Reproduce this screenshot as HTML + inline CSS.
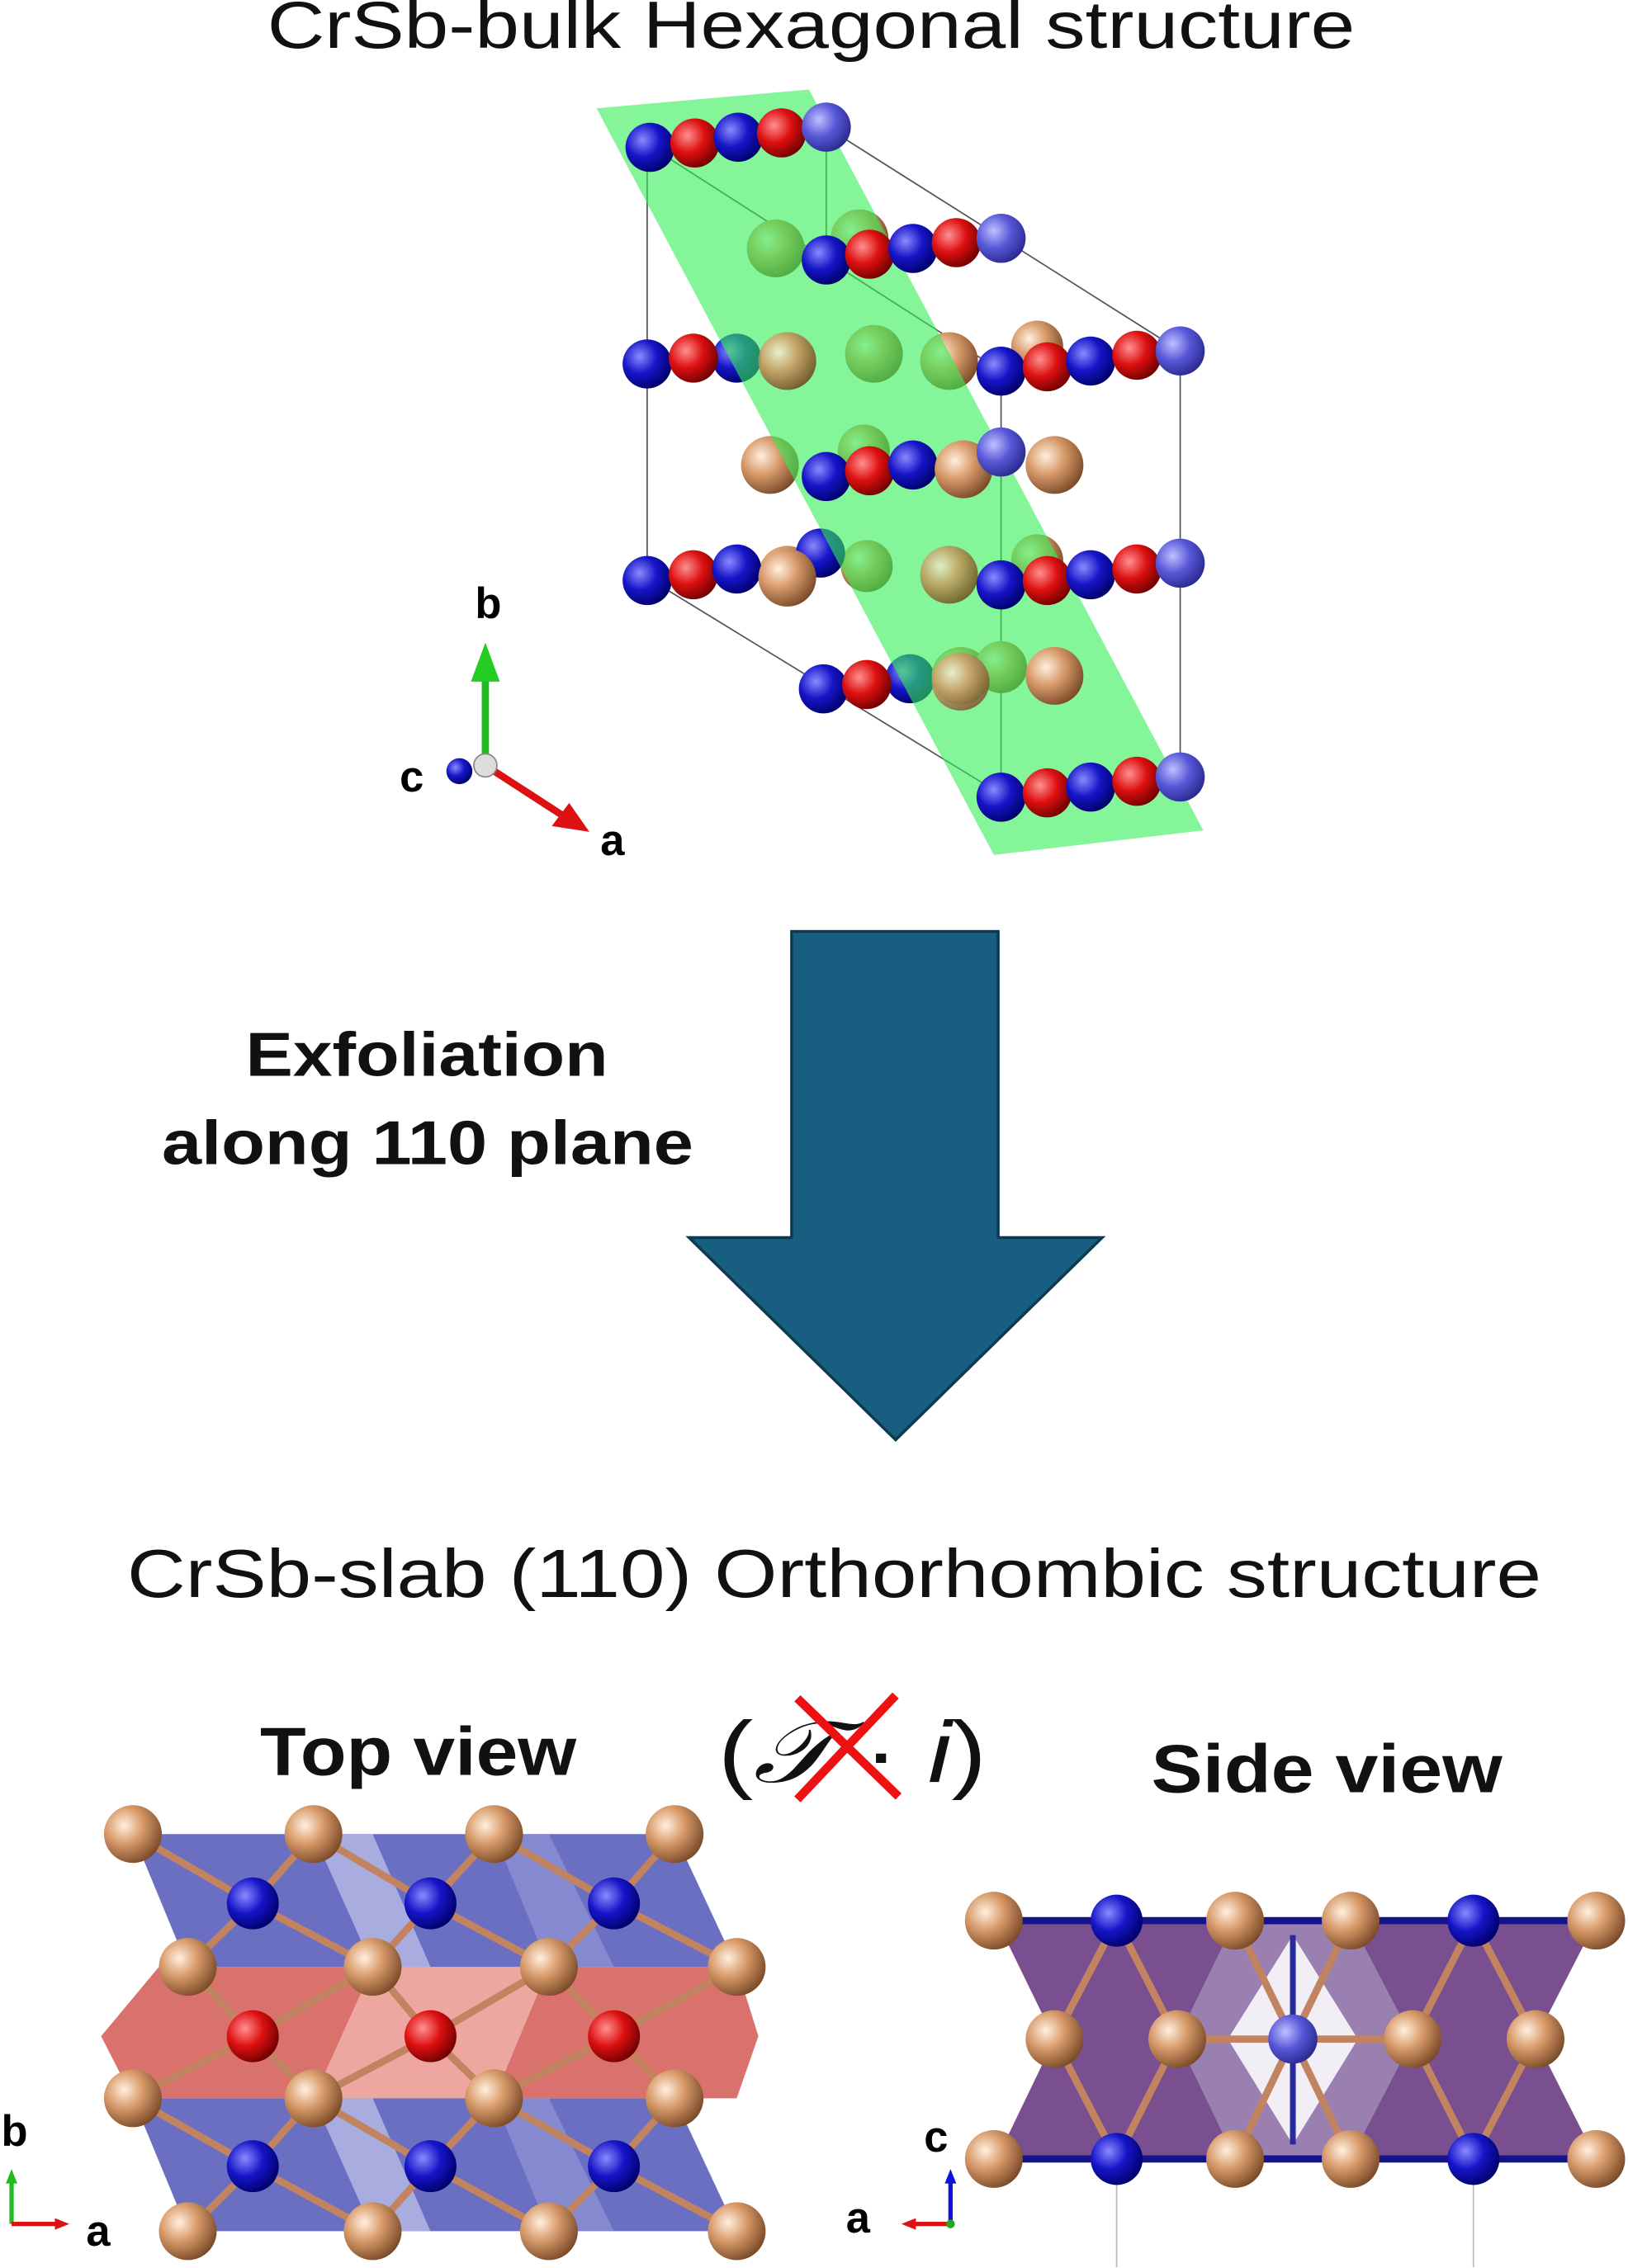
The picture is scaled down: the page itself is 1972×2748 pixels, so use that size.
<!DOCTYPE html>
<html><head><meta charset="utf-8"><style>
html,body{margin:0;padding:0;background:#fff;}
svg{display:block;}
text{font-family:"Liberation Sans",sans-serif;}
</style></head><body>
<svg width="1972" height="2748" viewBox="0 0 1127 1570.5" xmlns="http://www.w3.org/2000/svg">
<defs>
<radialGradient id="gb" cx="0.35" cy="0.35" r="0.7"><stop offset="0" stop-color="#8a8aff"/><stop offset="0.5" stop-color="#1515c8"/><stop offset="1" stop-color="#00006a"/></radialGradient>
<radialGradient id="gr" cx="0.35" cy="0.35" r="0.7"><stop offset="0" stop-color="#ff9090"/><stop offset="0.5" stop-color="#dd1010"/><stop offset="1" stop-color="#700000"/></radialGradient>
<radialGradient id="gc" cx="0.35" cy="0.35" r="0.7"><stop offset="0" stop-color="#fff0e0"/><stop offset="0.45" stop-color="#d99c6c"/><stop offset="1" stop-color="#7a4a28"/></radialGradient>
<radialGradient id="gl" cx="0.35" cy="0.35" r="0.7"><stop offset="0" stop-color="#c0c0ff"/><stop offset="0.5" stop-color="#5858d8"/><stop offset="1" stop-color="#2a2a90"/></radialGradient>
</defs>

<text x="185" y="33" font-size="46" textLength="753" lengthAdjust="spacingAndGlyphs" fill="#111">CrSb-bulk Hexagonal structure</text>

<g stroke="#555" stroke-width="1" fill="none">
<line x1="448" y1="100" x2="448" y2="400"/>
<line x1="693" y1="257" x2="693" y2="550"/>
<line x1="817" y1="243" x2="817" y2="538"/>
<line x1="572" y1="88" x2="572" y2="180"/>
<line x1="448" y1="100" x2="693" y2="257"/>
<line x1="572" y1="88" x2="817" y2="243"/>
<line x1="448" y1="400" x2="693" y2="550"/>
<line x1="448" y1="100" x2="572" y2="88"/>
<line x1="693" y1="257" x2="817" y2="243"/>
<line x1="693" y1="550" x2="817" y2="538"/>
</g>

<g>
<circle cx="537" cy="172" r="20" fill="url(#gc)"/><circle cx="595" cy="165" r="20" fill="url(#gc)"/>
<circle cx="545" cy="250" r="20" fill="url(#gc)"/><circle cx="605" cy="245" r="20" fill="url(#gc)"/><circle cx="657" cy="250" r="20" fill="url(#gc)"/><circle cx="718" cy="240" r="18" fill="url(#gc)"/>
<circle cx="533" cy="322" r="20" fill="url(#gc)"/><circle cx="598" cy="312" r="18" fill="url(#gc)"/>
<circle cx="545" cy="398" r="20" fill="url(#gc)"/><circle cx="600" cy="392" r="18" fill="url(#gc)"/><circle cx="657" cy="398" r="20" fill="url(#gc)"/><circle cx="718" cy="388" r="18" fill="url(#gc)"/>
<circle cx="630" cy="470" r="17" fill="url(#gb)"/><circle cx="665" cy="468" r="20" fill="url(#gc)"/><circle cx="693" cy="462" r="18" fill="url(#gc)"/>
<circle cx="510" cy="248" r="17" fill="url(#gb)"/><circle cx="568" cy="383" r="17" fill="url(#gb)"/>
</g>

<polygon points="413,75 560,62 833,575 688,592" fill="#33ee55" fill-opacity="0.6"/>

<g>
<circle cx="450" cy="102" r="17" fill="url(#gb)"/><circle cx="481" cy="99" r="17" fill="url(#gr)"/><circle cx="511" cy="95" r="17" fill="url(#gb)"/><circle cx="541" cy="92" r="17" fill="url(#gr)"/><circle cx="572" cy="88" r="17" fill="url(#gl)"/>
<circle cx="572" cy="180" r="17" fill="url(#gb)"/><circle cx="602" cy="176" r="17" fill="url(#gr)"/><circle cx="632" cy="172" r="17" fill="url(#gb)"/><circle cx="662" cy="168" r="17" fill="url(#gr)"/><circle cx="693" cy="165" r="17" fill="url(#gl)"/>
<circle cx="448" cy="252" r="17" fill="url(#gb)"/><circle cx="480" cy="248" r="17" fill="url(#gr)"/>
<circle cx="545" cy="250" r="20" fill="url(#gc)" opacity="0.8"/>
<circle cx="693" cy="257" r="17" fill="url(#gb)"/><circle cx="725" cy="254" r="17" fill="url(#gr)"/><circle cx="755" cy="250" r="17" fill="url(#gb)"/><circle cx="787" cy="246" r="17" fill="url(#gr)"/><circle cx="817" cy="243" r="17" fill="url(#gl)"/>
<circle cx="572" cy="330" r="17" fill="url(#gb)"/><circle cx="602" cy="326" r="17" fill="url(#gr)"/><circle cx="632" cy="322" r="17" fill="url(#gb)"/><circle cx="667" cy="325" r="20" fill="url(#gc)"/><circle cx="693" cy="313" r="17" fill="url(#gl)"/><circle cx="730" cy="322" r="20" fill="url(#gc)"/>
<circle cx="448" cy="402" r="17" fill="url(#gb)"/><circle cx="480" cy="398" r="17" fill="url(#gr)"/><circle cx="510" cy="394" r="17" fill="url(#gb)"/><circle cx="545" cy="400" r="20" fill="url(#gc)"/>
<circle cx="657" cy="398" r="20" fill="url(#gc)" opacity="0.7"/>
<circle cx="693" cy="405" r="17" fill="url(#gb)"/><circle cx="725" cy="402" r="17" fill="url(#gr)"/><circle cx="755" cy="398" r="17" fill="url(#gb)"/><circle cx="787" cy="394" r="17" fill="url(#gr)"/><circle cx="817" cy="390" r="17" fill="url(#gl)"/>
<circle cx="570" cy="477" r="17" fill="url(#gb)"/><circle cx="600" cy="474" r="17" fill="url(#gr)"/><circle cx="665" cy="472" r="20" fill="url(#gc)" opacity="0.8"/><circle cx="730" cy="468" r="20" fill="url(#gc)"/>
<circle cx="693" cy="552" r="17" fill="url(#gb)"/><circle cx="725" cy="549" r="17" fill="url(#gr)"/><circle cx="755" cy="545" r="17" fill="url(#gb)"/><circle cx="787" cy="541" r="17" fill="url(#gr)"/><circle cx="817" cy="538" r="17" fill="url(#gl)"/>
</g>

<line x1="336" y1="530" x2="336" y2="470" stroke="#22bb22" stroke-width="5"/>
<polygon points="326,472 346,472 336,445" fill="#22cc22"/>
<line x1="336" y1="530" x2="390" y2="565" stroke="#dd1111" stroke-width="5"/>
<polygon points="382,572 394,556 408,576" fill="#dd1111"/>
<circle cx="318" cy="534" r="9" fill="url(#gb)"/>
<circle cx="336" cy="530" r="8" fill="#ddd" stroke="#888"/>
<text x="338" y="428" font-size="30" font-weight="bold" text-anchor="middle">b</text>
<text x="285" y="548" font-size="30" font-weight="bold" text-anchor="middle">c</text>
<text x="424" y="592" font-size="30" font-weight="bold" text-anchor="middle">a</text>

<polygon points="548,645 691,645 691,857 763,857 620,997 477,857 548,857" fill="#185e80" stroke="#0d3a50" stroke-width="2"/>
<text x="170" y="745" font-size="43" font-weight="bold" textLength="251" lengthAdjust="spacingAndGlyphs" fill="#111">Exfoliation</text>
<text x="112" y="806" font-size="43" font-weight="bold" textLength="368" lengthAdjust="spacingAndGlyphs" fill="#111">along 110 plane</text>

<text x="88" y="1106" font-size="47" textLength="979" lengthAdjust="spacingAndGlyphs" fill="#111">CrSb-slab (110) Orthorhombic structure</text>
<text x="180" y="1229" font-size="47" font-weight="bold" textLength="219" lengthAdjust="spacingAndGlyphs" fill="#111">Top view</text>
<text x="797" y="1241" font-size="47" font-weight="bold" textLength="243" lengthAdjust="spacingAndGlyphs" fill="#111">Side view</text>
<text x="497" y="1234" font-size="60" font-family="Liberation Serif,serif" fill="#111" textLength="186" lengthAdjust="spacingAndGlyphs">(<tspan font-style="italic">𝒯</tspan> · <tspan font-style="italic">i</tspan>)</text>
<line x1="552" y1="1176" x2="622" y2="1244" stroke="#ee1111" stroke-width="6"/>
<line x1="620" y1="1174" x2="552" y2="1246" stroke="#ee1111" stroke-width="6"/>

<g>
<polygon points="92,1270 467,1270 510,1362 130,1362" fill="#6a6fc2"/>
<polygon points="92,1453 467,1453 510,1545 130,1545" fill="#6a6fc2"/>
<polygon points="110,1362 510,1362 525,1410 510,1453 92,1453 70,1410" fill="#d9726c"/>
<polygon points="217,1270 258,1362 298,1362 258,1270" fill="#a9acdf"/>
<polygon points="217,1453 258,1545 298,1545 258,1453" fill="#a9acdf"/>
<polygon points="258,1362 217,1453 342,1453 380,1362" fill="#eda7a0"/>
<polygon points="342,1270 380,1362 425,1362 380,1270" fill="#9094d6" opacity="0.7"/>
<polygon points="342,1453 380,1545 425,1545 380,1453" fill="#9094d6" opacity="0.7"/>
<g stroke="#c28460" stroke-width="5">
<line x1="92" y1="1270" x2="175" y2="1318"/><line x1="217" y1="1270" x2="175" y2="1318"/><line x1="130" y1="1362" x2="175" y2="1318"/><line x1="258" y1="1362" x2="175" y2="1318"/>
<line x1="217" y1="1270" x2="298" y2="1318"/><line x1="342" y1="1270" x2="298" y2="1318"/><line x1="258" y1="1362" x2="298" y2="1318"/><line x1="380" y1="1362" x2="298" y2="1318"/>
<line x1="342" y1="1270" x2="425" y2="1318"/><line x1="467" y1="1270" x2="425" y2="1318"/><line x1="380" y1="1362" x2="425" y2="1318"/><line x1="510" y1="1362" x2="425" y2="1318"/>
<line x1="92" y1="1453" x2="175" y2="1500"/><line x1="217" y1="1453" x2="175" y2="1500"/><line x1="130" y1="1545" x2="175" y2="1500"/><line x1="258" y1="1545" x2="175" y2="1500"/>
<line x1="217" y1="1453" x2="298" y2="1500"/><line x1="342" y1="1453" x2="298" y2="1500"/><line x1="258" y1="1545" x2="298" y2="1500"/><line x1="380" y1="1545" x2="298" y2="1500"/>
<line x1="342" y1="1453" x2="425" y2="1500"/><line x1="467" y1="1453" x2="425" y2="1500"/><line x1="380" y1="1545" x2="425" y2="1500"/><line x1="510" y1="1545" x2="425" y2="1500"/>
<line x1="130" y1="1362" x2="175" y2="1410"/><line x1="258" y1="1362" x2="175" y2="1410"/><line x1="92" y1="1453" x2="175" y2="1410"/><line x1="217" y1="1453" x2="175" y2="1410"/>
<line x1="258" y1="1362" x2="298" y2="1410"/><line x1="380" y1="1362" x2="298" y2="1410"/><line x1="217" y1="1453" x2="298" y2="1410"/><line x1="342" y1="1453" x2="298" y2="1410"/>
<line x1="380" y1="1362" x2="425" y2="1410"/><line x1="510" y1="1362" x2="425" y2="1410"/><line x1="342" y1="1453" x2="425" y2="1410"/><line x1="467" y1="1453" x2="425" y2="1410"/>
</g>
<g fill="url(#gc)">
<circle cx="92" cy="1270" r="20"/><circle cx="217" cy="1270" r="20"/><circle cx="342" cy="1270" r="20"/><circle cx="467" cy="1270" r="20"/>
<circle cx="130" cy="1362" r="20"/><circle cx="258" cy="1362" r="20"/><circle cx="380" cy="1362" r="20"/><circle cx="510" cy="1362" r="20"/>
<circle cx="92" cy="1453" r="20"/><circle cx="217" cy="1453" r="20"/><circle cx="342" cy="1453" r="20"/><circle cx="467" cy="1453" r="20"/>
<circle cx="130" cy="1545" r="20"/><circle cx="258" cy="1545" r="20"/><circle cx="380" cy="1545" r="20"/><circle cx="510" cy="1545" r="20"/>
</g>
<g fill="url(#gb)"><circle cx="175" cy="1318" r="18"/><circle cx="298" cy="1318" r="18"/><circle cx="425" cy="1318" r="18"/><circle cx="175" cy="1500" r="18"/><circle cx="298" cy="1500" r="18"/><circle cx="425" cy="1500" r="18"/></g>
<g fill="url(#gr)"><circle cx="175" cy="1410" r="18"/><circle cx="298" cy="1410" r="18"/><circle cx="425" cy="1410" r="18"/></g>
</g>
<line x1="8" y1="1540" x2="8" y2="1510" stroke="#22bb22" stroke-width="3"/>
<polygon points="4,1512 12,1512 8,1502" fill="#22bb22"/>
<line x1="8" y1="1540" x2="40" y2="1540" stroke="#dd1111" stroke-width="3"/>
<polygon points="38,1536 38,1544 48,1540" fill="#dd1111"/>
<text x="10" y="1486" font-size="30" font-weight="bold" text-anchor="middle">b</text>
<text x="68" y="1555" font-size="30" font-weight="bold" text-anchor="middle">a</text>

<g>
<polygon points="690,1330 1105,1330 1063,1412 1105,1495 690,1495 730,1412" fill="#7a4f8f"/>
<polygon points="855,1330 935,1330 978,1412 935,1495 855,1495 815,1412" fill="#9a80b0"/>
<polygon points="895,1340 940,1412 895,1485 850,1412" fill="#f2eef6"/>
<g stroke="#14148a" stroke-width="5">
<line x1="688" y1="1330" x2="1105" y2="1330"/><line x1="688" y1="1495" x2="1105" y2="1495"/>
</g>
<g stroke="#c28460" stroke-width="5">
<line x1="773" y1="1330" x2="730" y2="1412"/><line x1="773" y1="1330" x2="815" y2="1412"/><line x1="773" y1="1495" x2="730" y2="1412"/><line x1="773" y1="1495" x2="815" y2="1412"/>
<line x1="1020" y1="1330" x2="978" y2="1412"/><line x1="1020" y1="1330" x2="1063" y2="1412"/><line x1="1020" y1="1495" x2="978" y2="1412"/><line x1="1020" y1="1495" x2="1063" y2="1412"/>
<line x1="855" y1="1330" x2="895" y2="1412"/><line x1="935" y1="1330" x2="895" y2="1412"/><line x1="855" y1="1495" x2="895" y2="1412"/><line x1="935" y1="1495" x2="895" y2="1412"/>
<line x1="815" y1="1412" x2="978" y2="1412"/>
</g>
<g stroke="#2a2aa0" stroke-width="4"><line x1="895" y1="1340" x2="895" y2="1485"/></g>
<line x1="773" y1="1495" x2="773" y2="1570" stroke="#bbb" stroke-width="1"/>
<line x1="1020" y1="1495" x2="1020" y2="1570" stroke="#bbb" stroke-width="1"/>
<g fill="url(#gc)">
<circle cx="688" cy="1330" r="20"/><circle cx="855" cy="1330" r="20"/><circle cx="935" cy="1330" r="20"/><circle cx="1105" cy="1330" r="20"/>
<circle cx="730" cy="1412" r="20"/><circle cx="815" cy="1412" r="20"/><circle cx="978" cy="1412" r="20"/><circle cx="1063" cy="1412" r="20"/>
<circle cx="688" cy="1495" r="20"/><circle cx="855" cy="1495" r="20"/><circle cx="935" cy="1495" r="20"/><circle cx="1105" cy="1495" r="20"/>
</g>
<g fill="url(#gb)"><circle cx="773" cy="1330" r="18"/><circle cx="1020" cy="1330" r="18"/><circle cx="773" cy="1495" r="18"/><circle cx="1020" cy="1495" r="18"/></g>
<circle cx="895" cy="1412" r="17" fill="url(#gl)"/>
</g>
<line x1="658" y1="1540" x2="658" y2="1510" stroke="#1111dd" stroke-width="3"/>
<polygon points="654,1512 662,1512 658,1502" fill="#1111dd"/>
<line x1="658" y1="1540" x2="632" y2="1540" stroke="#dd1111" stroke-width="3"/>
<polygon points="634,1536 634,1544 624,1540" fill="#dd1111"/>
<circle cx="658" cy="1540" r="3" fill="#22aa22"/>
<text x="648" y="1490" font-size="30" font-weight="bold" text-anchor="middle">c</text>
<text x="594" y="1546" font-size="30" font-weight="bold" text-anchor="middle">a</text>
</svg>
</body></html>
